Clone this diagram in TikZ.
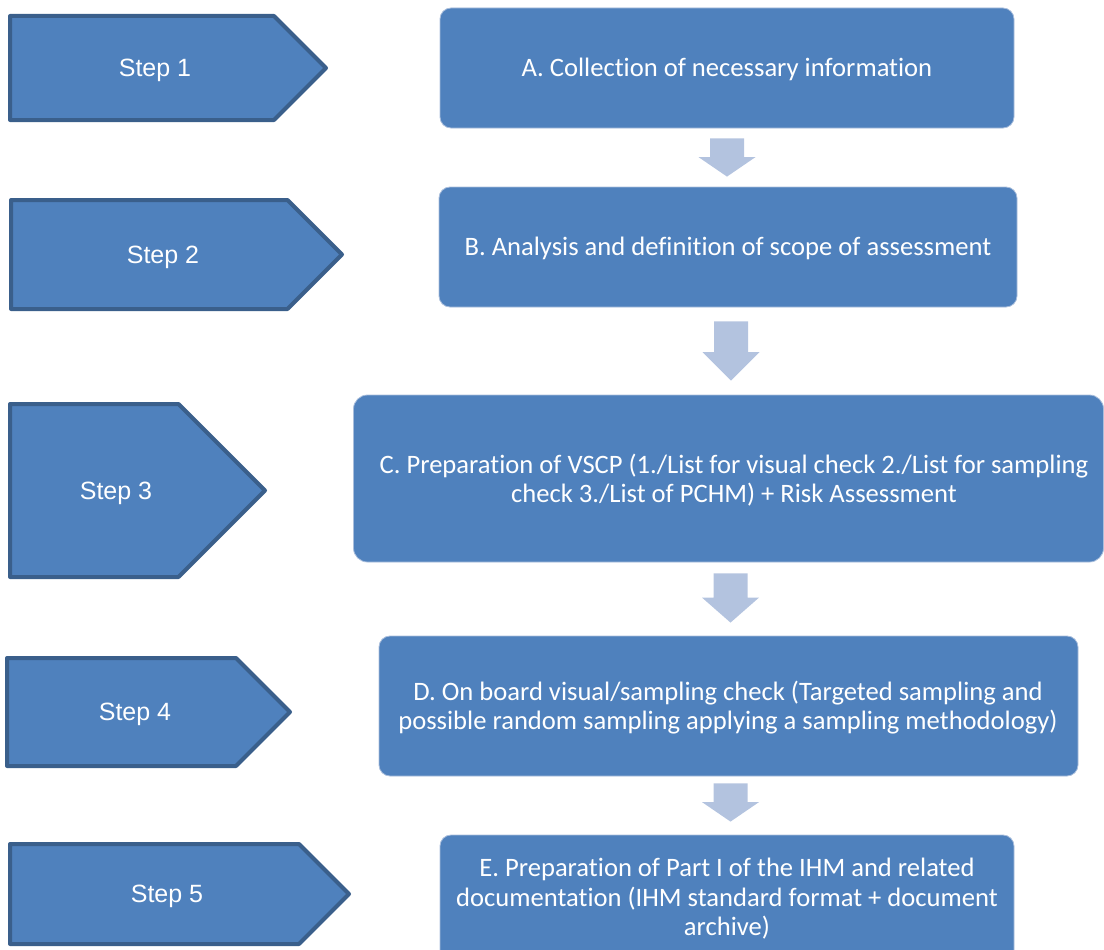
\documentclass[tikz,border=0pt]{standalone}
\usepackage{fontspec}
\setmainfont[Ligatures=NoCommon]{Carlito}
\newfontfamily\arialf{Liberation Sans}
\usetikzlibrary{calc}
\definecolor{boxblue}{HTML}{4F81BD}
\definecolor{edgeblue}{HTML}{3A5F8B}
\definecolor{arrowc}{HTML}{B3C3DF}
\definecolor{boxedge}{HTML}{A9BEDC}
\tikzset{
  stepshape/.style={fill=boxblue,draw=edgeblue,line width=4pt,line join=round},
  steptext/.style={text=white,font=\arialf\fontsize{25}{30}\selectfont,inner sep=0pt},
  taskbox/.style={fill=boxblue,draw=boxedge,line width=0.8pt,rounded corners=11pt,inner sep=0pt},
  tasktext/.style={text=white,font=\fontsize{26.6}{29.5}\selectfont,align=center,inner sep=0pt},
  blockarr/.style={fill=arrowc}
}
% #1 start coordinate, #2 tip coordinate, #3 head length
\newcommand\blockarrow[3]{%
  \fill[blockarr] let \p1=#1, \p2=#2 in
    (\x1-17,\y1) -- (\x1+17,\y1) -- (\x1+17,\y2+#3) -- (\x1+28.5,\y2+#3)
    -- (\x1,\y2) -- (\x1-28.5,\y2+#3) -- (\x1-17,\y2+#3) -- cycle;}
\begin{document}
\begin{tikzpicture}[x=1pt,y=-1pt]
\useasboundingbox (0,0) rectangle (1104,950);
\clip (0,0) rectangle (1104,950);
% step pentagons
\draw[stepshape] (10,16) -- (274,16) -- (326,68) -- (274,120) -- (10,120) -- cycle;
\node[steptext] (s1) at (155,70) {Step 1};
\draw[stepshape] (11,200) -- (287.5,200) -- (342,254.5) -- (287.5,309) -- (11,309) -- cycle;
\node[steptext] (s2) at (163,257) {Step 2};
\draw[stepshape] (10,404) -- (178.5,404) -- (265,490.5) -- (178.5,577) -- (10,577) -- cycle;
\node[steptext] (s3) at (116,493) {Step 3};
\draw[stepshape] (7,658) -- (236,658) -- (290,712) -- (236,766) -- (7,766) -- cycle;
\node[steptext] (s4) at (135,714) {Step 4};
\draw[stepshape] (10,844) -- (299,844) -- (349,894) -- (299,944) -- (10,944) -- cycle;
\node[steptext] (s5) at (167,896) {Step 5};
% task boxes
\node[taskbox,minimum width=574pt,minimum height=120pt] (A) at (727,68) {};
\node[tasktext] (At) at (727,69) {A. Collection of necessary information};
\node[taskbox,minimum width=578pt,minimum height=120pt] (B) at (728,247) {};
\node[tasktext] (Bt) at (728,248) {B. Analysis and definition of scope of assessment};
\node[taskbox,minimum width=750pt,minimum height=167pt,rounded corners=14pt] (C) at (728.5,478.5) {};
\node[tasktext] (Ct) at (734,480) {C. Preparation of VSCP (1./List for visual check 2./List for sampling\\check 3./List of PCHM) + Risk Assessment};
\node[taskbox,minimum width=699pt,minimum height=140pt] (D) at (728.5,706) {};
\node[tasktext] (Dt) at (728,707.5) {D. On board visual/sampling check (Targeted sampling and\\possible random sampling applying a sampling methodology)};
\node[taskbox,minimum width=574pt,minimum height=130pt] (E) at (727,900) {};
\node[tasktext] (Et) at (727,899) {E. Preparation of Part I of the IHM and related\\documentation (IHM standard format + document\\archive)};
% block arrows
\blockarrow{($(A.south)+(0,10)$)}{($(B.north)+(0,-10)$)}{19.5}
\blockarrow{($(B.south)+(3,14)$)}{($(C.north)+(3,-14)$)}{28.5}
\blockarrow{($(C.south)+(2,11)$)}{($(D.north)+(2,-13)$)}{25}
\blockarrow{($(D.south)+(2,7)$)}{($(E.north)+(2,-13)$)}{19.5}
\end{tikzpicture}
\end{document}
